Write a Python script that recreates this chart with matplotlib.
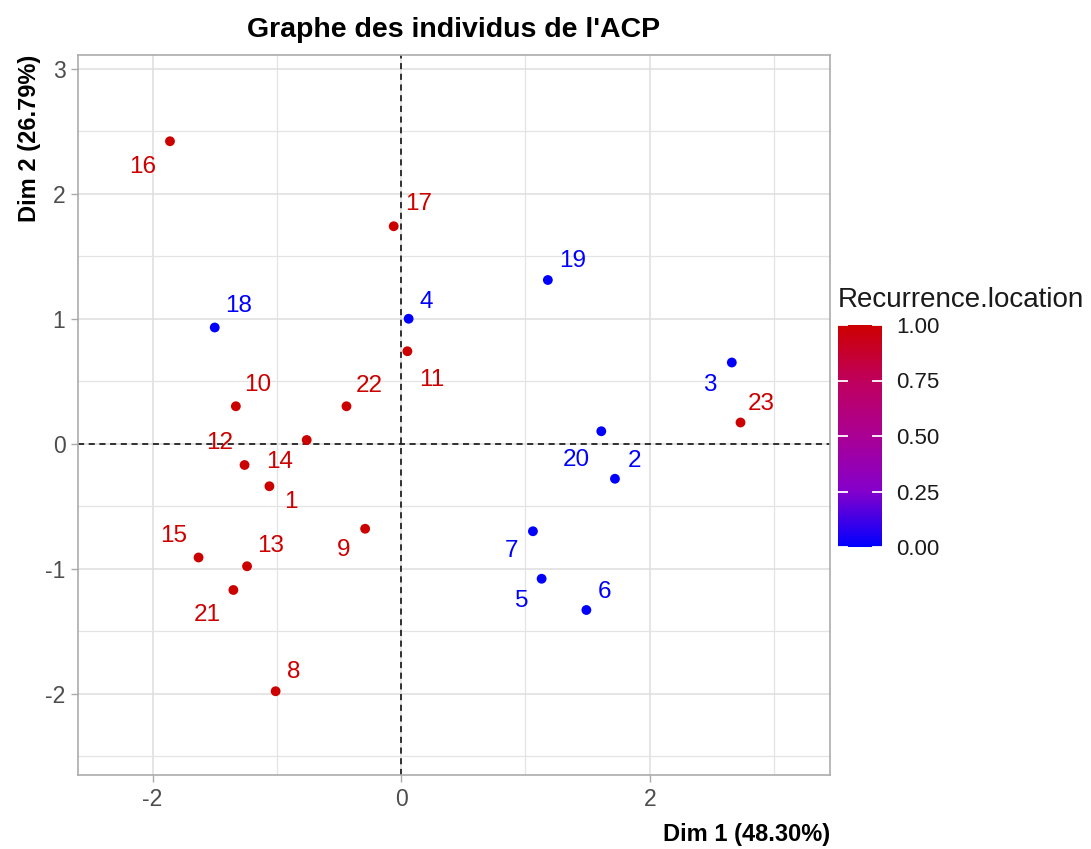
import matplotlib
matplotlib.use("Agg")
import matplotlib.pyplot as plt
import numpy as np
from matplotlib.colors import LinearSegmentedColormap
from matplotlib.ticker import MultipleLocator

plt.rcParams["font.family"] = ["Liberation Sans", "DejaVu Sans"]
plt.rcParams["axes.unicode_minus"] = False

# coordonnées des individus sur les deux premières dimensions
individus = ["1", "2", "3", "4", "5", "6", "7", "8", "9", "10", "11", "12",
             "13", "14", "15", "16", "17", "18", "19", "20", "21", "22", "23"]
dim1 = [-1.06, 1.72, 2.66, 0.06, 1.13, 1.49, 1.06, -1.01, -0.29, -1.33, 0.05, -1.26,
        -1.24, -0.76, -1.63, -1.86, -0.06, -1.50, 1.18, 1.61, -1.35, -0.44, 2.73]
dim2 = [-0.34, -0.28, 0.65, 1.00, -1.08, -1.33, -0.70, -1.98, -0.68, 0.30, 0.74, -0.17,
        -0.98, 0.03, -0.91, 2.42, 1.74, 0.93, 1.31, 0.10, -1.17, 0.30, 0.17]
recurrence = [1, 0, 0, 0, 0, 0, 0, 1, 1, 1, 1, 1,
              1, 1, 1, 1, 1, 0, 0, 0, 1, 1, 1]

# décalage des étiquettes (pixels), comme le ferait ggrepel
decalage = {
    "1": (21, -16), "2": (20, 18), "3": (-22, -22), "4": (18, 17), "5": (-20, -22),
    "6": (18, 18), "7": (-21, -20), "8": (18, 19), "9": (-22, -21), "10": (22, 21),
    "11": (24, -29), "12": (-25, 22), "13": (24, 20), "14": (-27, -22), "15": (-25, 22),
    "16": (-27, -26), "17": (25, 22), "18": (24, 21), "19": (25, 19), "20": (-25, -29),
    "21": (-26, -25), "22": (23, 20), "23": (21, 19),
}

cmap = LinearSegmentedColormap.from_list(
    "bleu_rouge",
    [(0.0, "#0000FF"), (0.25, "#8400CC"), (0.5, "#AA0094"), (0.75, "#BF005C"), (1.0, "#CD0000")])

fig = plt.figure(figsize=(10.91, 8.49), dpi=100)
ax = fig.add_axes([78 / 1091, 1 - 775 / 849, 752 / 1091, 720 / 849])

ax.set_xlim(-2.6, 3.45)
ax.set_ylim(-2.65, 3.11)
ax.xaxis.set_major_locator(MultipleLocator(2))
ax.xaxis.set_minor_locator(MultipleLocator(1))
ax.yaxis.set_major_locator(MultipleLocator(1))
ax.yaxis.set_minor_locator(MultipleLocator(0.5))
ax.grid(which="major", color="#DEDEDE", lw=1.1, zorder=0)
ax.grid(which="minor", color="#E4E4E4", lw=0.9, zorder=0)
ax.set_axisbelow(True)
for sp in ax.spines.values():
    sp.set_color("#ABABAB")
    sp.set_linewidth(1.2)
ax.tick_params(which="major", length=5, width=1.0, color="#ABABAB",
               labelcolor="#4D4D4D", labelsize=16.5, pad=4)
ax.tick_params(which="minor", length=0)

ax.axhline(0, color="black", ls="--", lw=1.1, dashes=(4, 3), zorder=1)
ax.axvline(0, color="black", ls="--", lw=1.1, dashes=(4, 3), zorder=1)

sc = ax.scatter(dim1, dim2, c=recurrence, cmap=cmap, vmin=0, vmax=1, s=50,
                edgecolors="none", zorder=3)

for nom, x, y, r in zip(individus, dim1, dim2, recurrence):
    ax.annotate(nom, (x, y), xytext=decalage[nom], textcoords="offset pixels",
                ha="center", va="center", fontsize=17.5, color=cmap(float(r)), zorder=4)

ax.set_title("Graphe des individus de l'ACP", fontsize=20.5, fontweight="bold", pad=13)
ax.set_xlabel("Dim 1 (48.30%)", loc="right", fontsize=17, fontweight="bold", labelpad=9)
ax.set_ylabel("Dim 2 (26.79%)", loc="top", fontsize=17, fontweight="bold", labelpad=3)

# barre de couleur
cax = fig.add_axes([838 / 1091, 1 - 547 / 849, 44 / 1091, 222 / 849])
cb = fig.colorbar(sc, cax=cax, ticks=[0, 0.25, 0.5, 0.75, 1.0])
cb.outline.set_visible(False)
cb.ax.set_yticklabels(["0.00", "0.25", "0.50", "0.75", "1.00"])
cb.ax.tick_params(direction="in", color="white", length=7, width=1.3,
                  left=True, right=True, labelsize=16, labelcolor="#1A1A1A", pad=10)
fig.text(838 / 1091, 1 - 300 / 849, "Recurrence.location", fontsize=20,
         ha="left", va="center", color="#1A1A1A")

fig.savefig("out.png", dpi=100)
